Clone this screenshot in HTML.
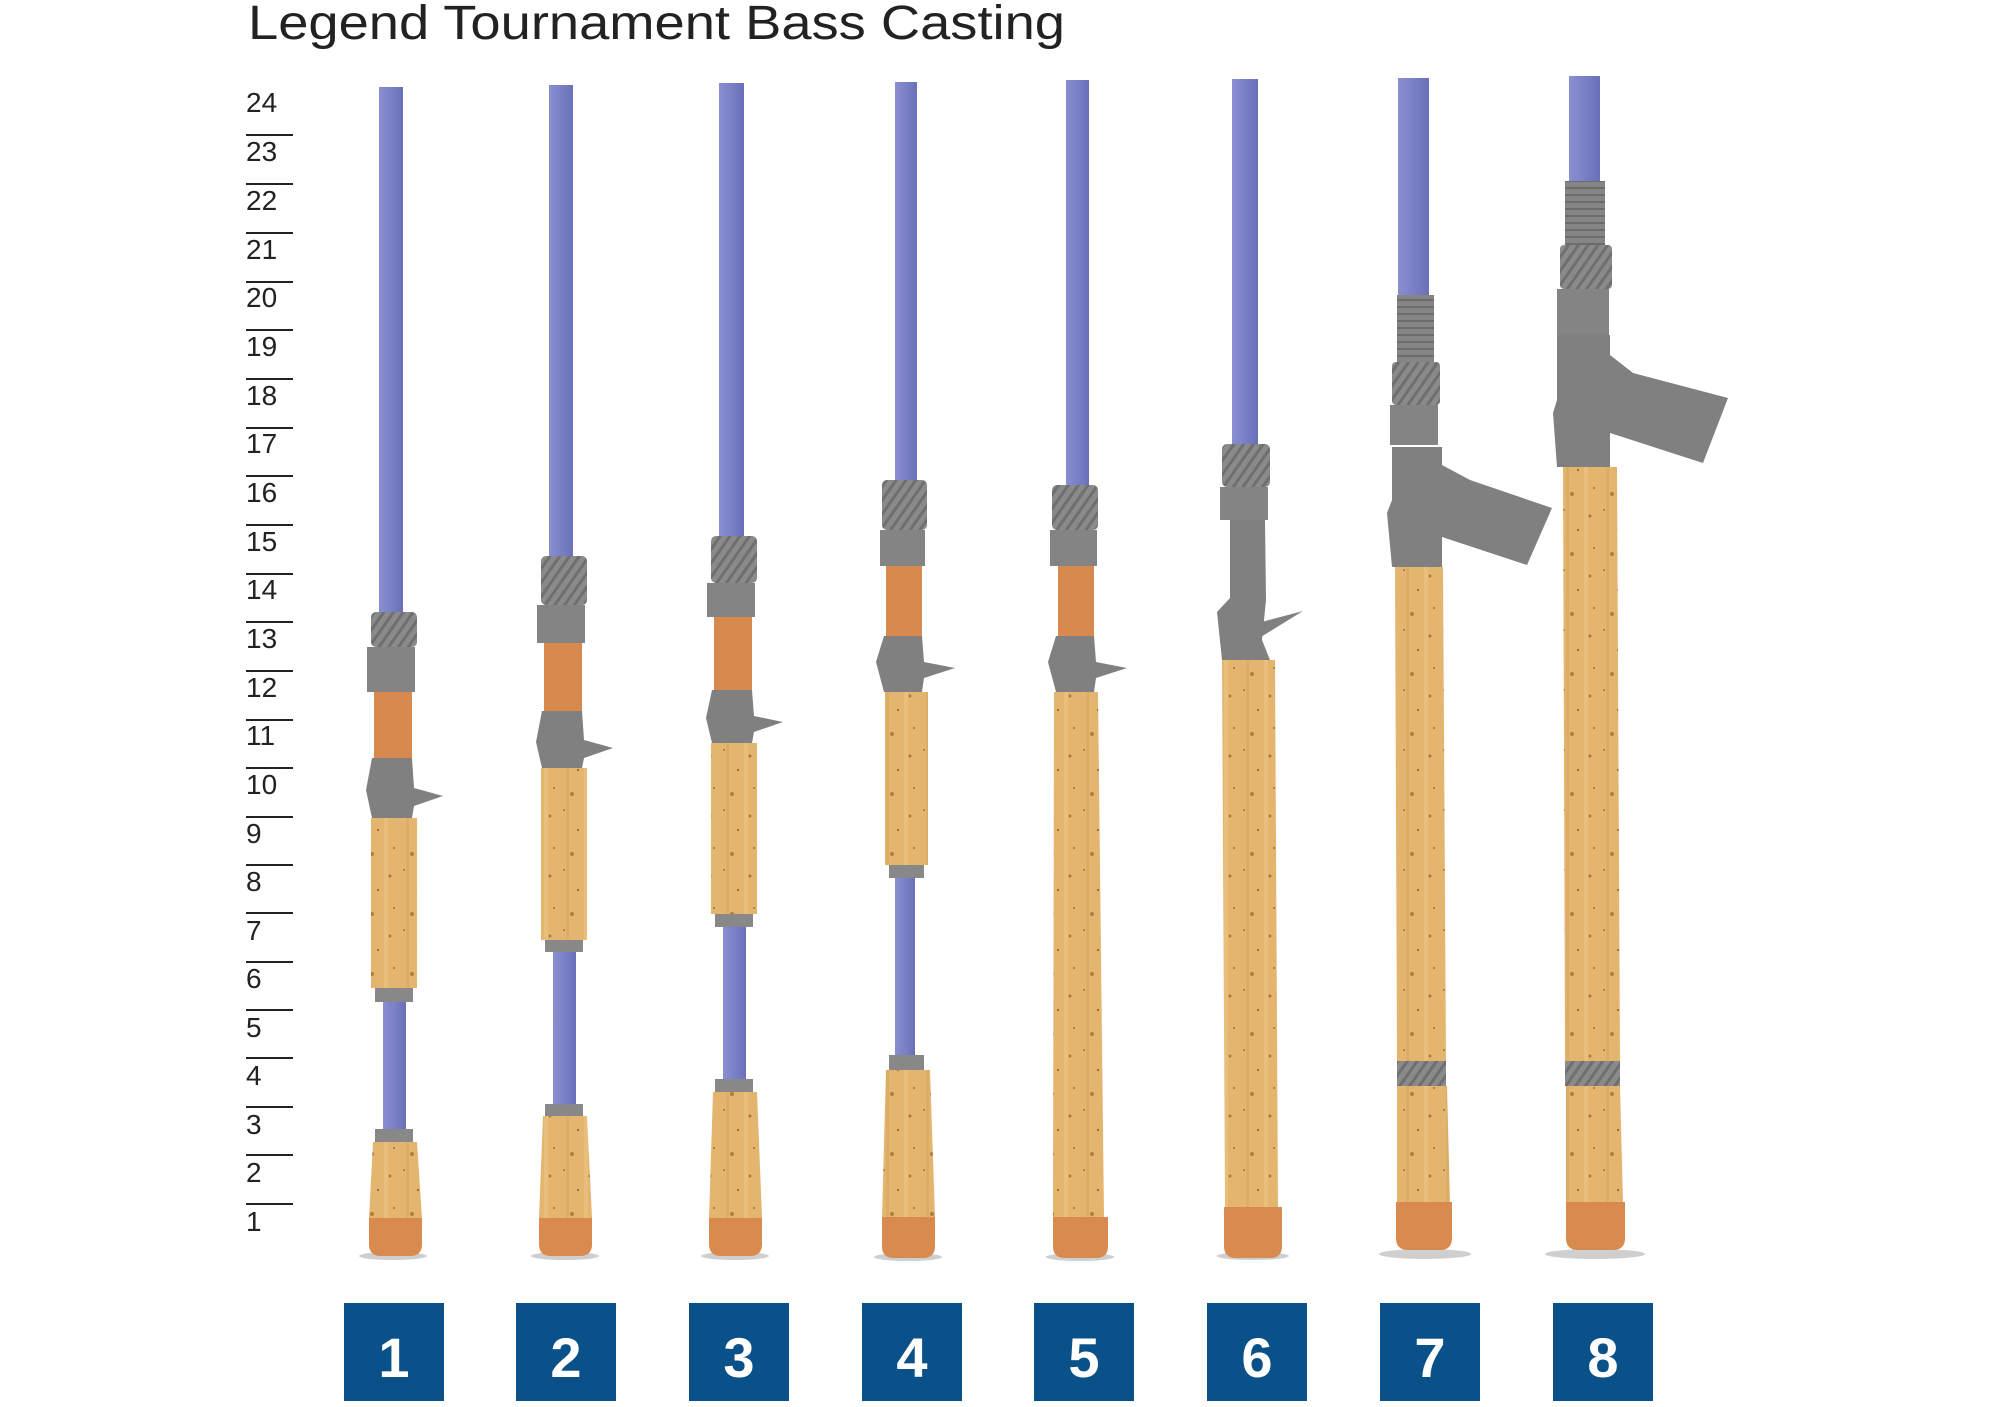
<!DOCTYPE html>
<html><head><meta charset="utf-8">
<style>html,body{margin:0;padding:0;background:#fff;}svg{display:block;}</style>
</head><body>
<svg width="2000" height="1407" viewBox="0 0 2000 1407" xmlns="http://www.w3.org/2000/svg">
<defs>
<pattern id="knurl" width="8" height="8" patternUnits="userSpaceOnUse" patternTransform="rotate(35)">
<rect width="8" height="8" fill="#8a8a8a"/><rect width="3" height="8" fill="#6f6f6f"/>
</pattern>
<pattern id="thread" width="10" height="7" patternUnits="userSpaceOnUse">
<rect width="10" height="7" fill="#858585"/><rect y="5" width="10" height="2" fill="#6c6c6c"/>
</pattern>
<pattern id="cork" width="40" height="60" patternUnits="userSpaceOnUse">
<rect width="40" height="60" fill="#e3b56f"/>
<rect x="6" width="3" height="60" fill="#d9a862" opacity=".6"/>
<rect x="24" width="4" height="60" fill="#edc585" opacity=".6"/>
<circle cx="12" cy="14" r="2" fill="#b27a3c"/><circle cx="30" cy="36" r="1.5" fill="#b27a3c"/>
<circle cx="18" cy="50" r="1.2" fill="#a87036"/><circle cx="4" cy="30" r="1" fill="#a87036"/>
<circle cx="34" cy="8" r="1" fill="#a87036"/>
</pattern>
<linearGradient id="blank" x1="0" x2="1"><stop offset="0" stop-color="#8a8fd0"/><stop offset=".5" stop-color="#7a80c6"/><stop offset="1" stop-color="#6a70b8"/></linearGradient>
</defs>

<text x="248" y="39" font-family="Liberation Sans, sans-serif" font-size="48" fill="#222" textLength="817" lengthAdjust="spacingAndGlyphs">Legend Tournament Bass Casting</text>

<g font-family="Liberation Sans, sans-serif" font-size="28" font-weight="300" fill="#222" stroke="#222" stroke-width="2">
<text x="246" y="112" stroke="none">24</text>
<line x1="246" y1="135" x2="293" y2="135"/><text x="246" y="161" stroke="none">23</text>
<line x1="246" y1="184" x2="293" y2="184"/><text x="246" y="210" stroke="none">22</text>
<line x1="246" y1="233" x2="293" y2="233"/><text x="246" y="259" stroke="none">21</text>
<line x1="246" y1="282" x2="293" y2="282"/><text x="246" y="307" stroke="none">20</text>
<line x1="246" y1="330" x2="293" y2="330"/><text x="246" y="356" stroke="none">19</text>
<line x1="246" y1="379" x2="293" y2="379"/><text x="246" y="405" stroke="none">18</text>
<line x1="246" y1="428" x2="293" y2="428"/><text x="246" y="453" stroke="none">17</text>
<line x1="246" y1="476" x2="293" y2="476"/><text x="246" y="502" stroke="none">16</text>
<line x1="246" y1="525" x2="293" y2="525"/><text x="246" y="551" stroke="none">15</text>
<line x1="246" y1="574" x2="293" y2="574"/><text x="246" y="599" stroke="none">14</text>
<line x1="246" y1="622" x2="293" y2="622"/><text x="246" y="648" stroke="none">13</text>
<line x1="246" y1="671" x2="293" y2="671"/><text x="246" y="697" stroke="none">12</text>
<line x1="246" y1="720" x2="293" y2="720"/><text x="246" y="745" stroke="none">11</text>
<line x1="246" y1="768" x2="293" y2="768"/><text x="246" y="794" stroke="none">10</text>
<line x1="246" y1="817" x2="293" y2="817"/><text x="246" y="843" stroke="none">9</text>
<line x1="246" y1="865" x2="293" y2="865"/><text x="246" y="891" stroke="none">8</text>
<line x1="246" y1="913" x2="293" y2="913"/><text x="246" y="940" stroke="none">7</text>
<line x1="246" y1="962" x2="293" y2="962"/><text x="246" y="988" stroke="none">6</text>
<line x1="246" y1="1010" x2="293" y2="1010"/><text x="246" y="1037" stroke="none">5</text>
<line x1="246" y1="1058" x2="293" y2="1058"/><text x="246" y="1085" stroke="none">4</text>
<line x1="246" y1="1107" x2="293" y2="1107"/><text x="246" y="1134" stroke="none">3</text>
<line x1="246" y1="1155" x2="293" y2="1155"/><text x="246" y="1182" stroke="none">2</text>
<line x1="246" y1="1204" x2="293" y2="1204"/><text x="246" y="1231" stroke="none">1</text>
</g>

<!-- shadows -->
<g fill="#cfcfcf">
<ellipse cx="393" cy="1256" rx="34" ry="4"/><ellipse cx="565" cy="1256" rx="34" ry="4"/>
<ellipse cx="735" cy="1256" rx="34" ry="4"/><ellipse cx="908" cy="1257" rx="34" ry="4"/>
<ellipse cx="1080" cy="1257" rx="34" ry="4"/><ellipse cx="1253" cy="1256" rx="36" ry="4"/>
<ellipse cx="1425" cy="1254" rx="46" ry="5"/><ellipse cx="1595" cy="1254" rx="50" ry="5"/>
</g>

<!-- ROD 1 -->
<rect x="379" y="87" width="24" height="525" fill="url(#blank)"/>
<rect x="371" y="612" width="46" height="35" rx="5" fill="url(#knurl)"/>
<rect x="367" y="647" width="48" height="45" fill="#848484"/>
<rect x="374" y="692" width="38" height="66" fill="#d88a4e"/>
<polygon points="372,758 412,758 414,788 443,796 414,806 412,818 372,818 366,790" fill="#808080"/>
<rect x="371" y="818" width="46" height="170" fill="url(#cork)"/>
<rect x="375" y="988" width="38" height="14" fill="#888"/>
<rect x="383" y="1002" width="23" height="127" fill="url(#blank)"/>
<rect x="375" y="1129" width="38" height="13" fill="#888"/>
<polygon points="373,1142 417,1142 422,1218 369,1218" fill="url(#cork)"/>
<path d="M369,1218 H422 V1244 Q422,1256 410,1256 H381 Q369,1256 369,1244 Z" fill="#d98a4e"/>

<!-- ROD 2 -->
<rect x="549" y="85" width="24" height="471" fill="url(#blank)"/>
<rect x="541" y="556" width="46" height="49" rx="5" fill="url(#knurl)"/>
<rect x="537" y="605" width="48" height="38" fill="#848484"/>
<rect x="544" y="643" width="38" height="68" fill="#d88a4e"/>
<polygon points="542,711 582,711 584,740 613,748 584,758 582,768 542,768 536,742" fill="#808080"/>
<rect x="541" y="768" width="46" height="172" fill="url(#cork)"/>
<rect x="545" y="940" width="38" height="12" fill="#888"/>
<rect x="553" y="952" width="23" height="152" fill="url(#blank)"/>
<rect x="545" y="1104" width="38" height="12" fill="#888"/>
<polygon points="543,1116 587,1116 592,1218 539,1218" fill="url(#cork)"/>
<path d="M539,1218 H592 V1244 Q592,1256 580,1256 H551 Q539,1256 539,1244 Z" fill="#d98a4e"/>

<!-- ROD 3 -->
<rect x="719" y="83" width="25" height="453" fill="url(#blank)"/>
<rect x="711" y="536" width="46" height="47" rx="5" fill="url(#knurl)"/>
<rect x="707" y="583" width="48" height="34" fill="#848484"/>
<rect x="714" y="617" width="38" height="73" fill="#d88a4e"/>
<polygon points="712,690 752,690 754,716 783,722 754,732 752,743 712,743 706,718" fill="#808080"/>
<rect x="711" y="743" width="46" height="171" fill="url(#cork)"/>
<rect x="715" y="914" width="38" height="13" fill="#888"/>
<rect x="723" y="927" width="23" height="152" fill="url(#blank)"/>
<rect x="715" y="1079" width="38" height="13" fill="#888"/>
<polygon points="713,1092 757,1092 762,1218 709,1218" fill="url(#cork)"/>
<path d="M709,1218 H762 V1244 Q762,1256 750,1256 H721 Q709,1256 709,1244 Z" fill="#d98a4e"/>

<!-- ROD 4 -->
<rect x="895" y="82" width="22" height="398" fill="url(#blank)"/>
<rect x="882" y="480" width="45" height="50" rx="5" fill="url(#knurl)"/>
<rect x="880" y="530" width="45" height="36" fill="#848484"/>
<rect x="886" y="566" width="36" height="70" fill="#d88a4e"/>
<polygon points="884,636 922,636 924,662 955,668 924,678 922,692 884,692 876,662" fill="#808080"/>
<rect x="885" y="692" width="43" height="173" fill="url(#cork)"/>
<rect x="889" y="865" width="35" height="13" fill="#888"/>
<rect x="895" y="878" width="20" height="177" fill="url(#blank)"/>
<rect x="889" y="1055" width="35" height="15" fill="#888"/>
<polygon points="886,1070 930,1070 935,1217 882,1217" fill="url(#cork)"/>
<path d="M882,1217 H935 V1246 Q935,1258 923,1258 H894 Q882,1258 882,1246 Z" fill="#d98a4e"/>

<!-- ROD 5 -->
<rect x="1066" y="80" width="23" height="405" fill="url(#blank)"/>
<rect x="1052" y="485" width="46" height="45" rx="5" fill="url(#knurl)"/>
<rect x="1050" y="530" width="47" height="36" fill="#848484"/>
<rect x="1058" y="566" width="36" height="70" fill="#d88a4e"/>
<polygon points="1056,636 1094,636 1096,662 1127,668 1096,678 1094,692 1056,692 1048,662" fill="#808080"/>
<polygon points="1054,692 1098,692 1104,1217 1053,1217" fill="url(#cork)"/>
<path d="M1053,1217 H1108 V1246 Q1108,1258 1096,1258 H1065 Q1053,1258 1053,1246 Z" fill="#d98a4e"/>

<!-- ROD 6 -->
<rect x="1232" y="79" width="26" height="365" fill="url(#blank)"/>
<rect x="1222" y="444" width="48" height="43" rx="5" fill="url(#knurl)"/>
<rect x="1220" y="487" width="48" height="33" fill="#848484"/>
<polygon points="1230,520 1265,520 1266,600 1262,640 1270,660 1222,660 1217,612 1230,598" fill="#808080"/>
<polygon points="1250,625 1303,611 1256,640" fill="#808080"/>
<polygon points="1222,660 1275,660 1278,1207 1225,1207" fill="url(#cork)"/>
<path d="M1224,1207 H1282 V1246 Q1282,1258 1270,1258 H1236 Q1224,1258 1224,1246 Z" fill="#d98a4e"/>

<!-- ROD 7 -->
<rect x="1398" y="78" width="31" height="217" fill="url(#blank)"/>
<rect x="1397" y="295" width="37" height="67" fill="url(#thread)"/>
<rect x="1392" y="362" width="48" height="43" rx="4" fill="url(#knurl)"/>
<rect x="1390" y="405" width="48" height="40" fill="#848484"/>
<polygon points="1392,447 1442,447 1442,465 1470,480 1552,508 1527,565 1442,537 1442,567 1392,567 1387,513 1392,500" fill="#808080"/>
<polygon points="1395,567 1443,567 1446,1061 1397,1061" fill="url(#cork)"/>
<rect x="1397" y="1061" width="49" height="25" fill="url(#knurl)"/>
<polygon points="1397,1086 1447,1086 1450,1202 1397,1202" fill="url(#cork)"/>
<path d="M1396,1202 H1452 V1238 Q1452,1250 1440,1250 H1408 Q1396,1250 1396,1238 Z" fill="#d98a4e"/>

<!-- ROD 8 -->
<rect x="1569" y="76" width="31" height="105" fill="url(#blank)"/>
<rect x="1565" y="181" width="40" height="64" fill="url(#thread)"/>
<rect x="1560" y="245" width="52" height="44" rx="4" fill="url(#knurl)"/>
<rect x="1557" y="289" width="52" height="46" fill="#848484"/>
<polygon points="1557,335 1610,335 1610,355 1633,373 1728,398 1703,463 1610,433 1610,467 1557,467 1553,413 1557,400" fill="#808080"/>
<polygon points="1563,467 1617,467 1620,1061 1565,1061" fill="url(#cork)"/>
<rect x="1565" y="1061" width="55" height="25" fill="url(#knurl)"/>
<polygon points="1566,1086 1620,1086 1623,1202 1566,1202" fill="url(#cork)"/>
<path d="M1566,1202 H1625 V1238 Q1625,1250 1613,1250 H1578 Q1566,1250 1566,1238 Z" fill="#d98a4e"/>

<!-- number boxes -->
<g fill="#0a5089">
<rect x="344" y="1303" width="100" height="98"/><rect x="516" y="1303" width="100" height="98"/>
<rect x="689" y="1303" width="100" height="98"/><rect x="862" y="1303" width="100" height="98"/>
<rect x="1034" y="1303" width="100" height="98"/><rect x="1207" y="1303" width="100" height="98"/>
<rect x="1380" y="1303" width="100" height="98"/><rect x="1553" y="1303" width="100" height="98"/>
</g>
<g font-family="Liberation Sans, sans-serif" font-size="56" font-weight="bold" fill="#fff" text-anchor="middle">
<text x="394" y="1377">1</text><text x="566" y="1377">2</text><text x="739" y="1377">3</text>
<text x="912" y="1377">4</text><text x="1084" y="1377">5</text><text x="1257" y="1377">6</text>
<text x="1430" y="1377">7</text><text x="1603" y="1377">8</text>
</g>
</svg>
</body></html>
